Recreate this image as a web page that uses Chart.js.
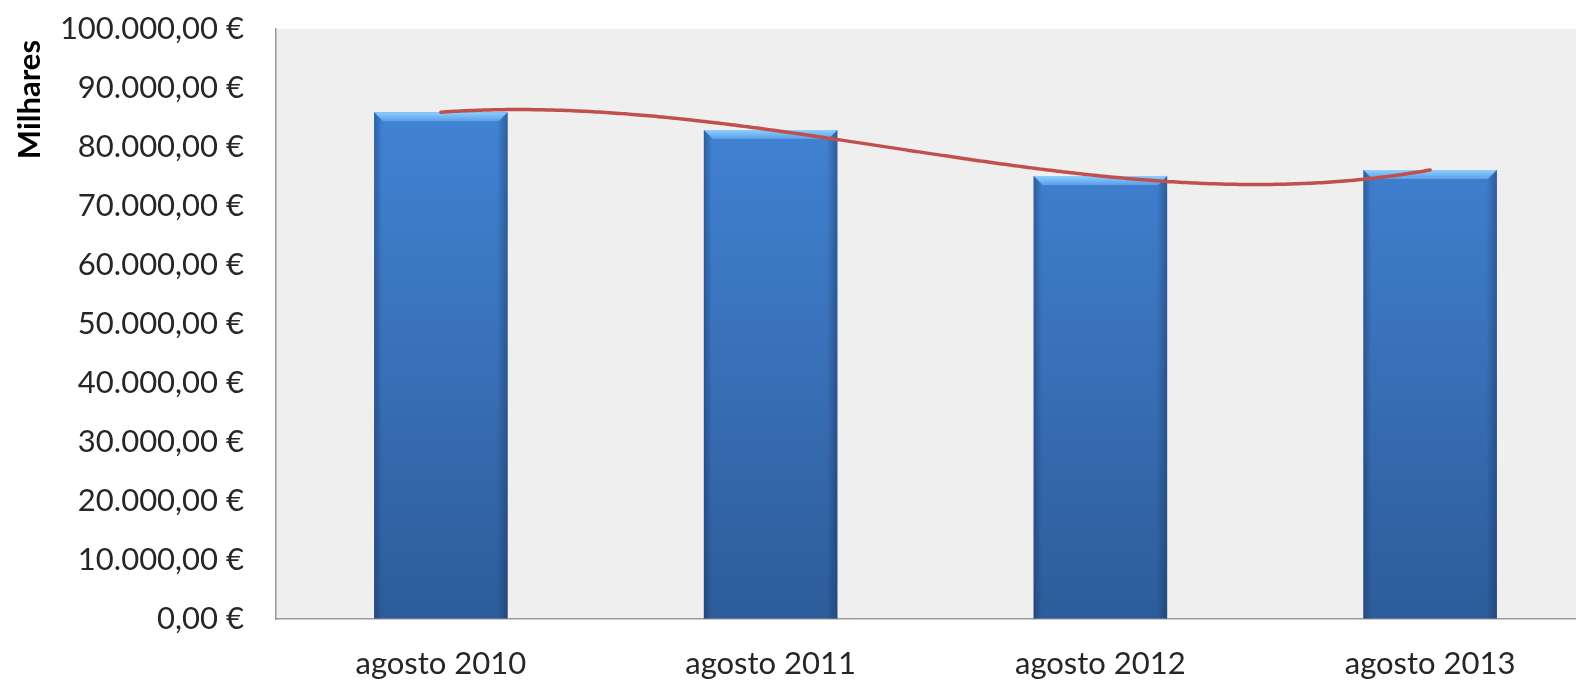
<!DOCTYPE html>
<html><head><meta charset="utf-8">
<script src="https://cdn.jsdelivr.net/npm/chart.js@4"></script>
<style>
html,body{margin:0;padding:0;overflow:hidden;background:#fff}
#wrap{width:1620px;height:681px;position:relative}
</style>
</head><body><div id="wrap"><canvas id="c"></canvas></div>
<script>
const categories = ['agosto 2010', 'agosto 2011', 'agosto 2012', 'agosto 2013'];
const values = [85900, 82900, 75100, 76100];
const yTickValues = [0, 10000, 20000, 30000, 40000, 50000, 60000, 70000, 80000, 90000, 100000];
const yTickLabels = ['0,00 €', '10.000,00 €', '20.000,00 €', '30.000,00 €', '40.000,00 €', '50.000,00 €',
  '60.000,00 €', '70.000,00 €', '80.000,00 €', '90.000,00 €', '100.000,00 €'];
const yAxisTitle = 'Milhares';

const FONT = 'Lato, "Open Sans", sans-serif';

const plotBg = {
  id: 'plotBg',
  beforeDraw(chart) {
    const {ctx, chartArea: a} = chart;
    ctx.save();
    ctx.fillStyle = '#efefef';
    ctx.fillRect(a.left, a.top, a.right - a.left, a.bottom - a.top);
    ctx.restore();
  }
};

const barStyle = {
  id: 'barStyle',
  afterDatasetDraw(chart, args) {
    if (args.index !== 0) return;
    const {ctx} = chart;
    const meta = chart.getDatasetMeta(0);
    meta.data.forEach(el => {
      const p = el.getProps(['x', 'y', 'base', 'width'], true);
      const l = p.x - p.width / 2, r = p.x + p.width / 2, t = p.y, b = p.base;
      ctx.save();
      const hg = ctx.createLinearGradient(l, 0, r, 0);
      hg.addColorStop(0, 'rgba(20,40,80,0.40)');
      hg.addColorStop(0.06, 'rgba(20,40,80,0.0)');
      hg.addColorStop(0.92, 'rgba(20,40,80,0.0)');
      hg.addColorStop(1, 'rgba(20,40,80,0.40)');
      ctx.fillStyle = hg;
      ctx.fillRect(l, t, r - l, b - t);
      const d = 9;
      const vg = ctx.createLinearGradient(0, t, 0, t + d);
      vg.addColorStop(0, '#8fd0ff');
      vg.addColorStop(1, '#5a9fe8');
      ctx.fillStyle = vg;
      ctx.beginPath();
      ctx.moveTo(l, t);
      ctx.lineTo(r, t);
      ctx.lineTo(r - d, t + d);
      ctx.lineTo(l + d, t + d);
      ctx.closePath();
      ctx.fill();
      ctx.restore();
    });
  }
};

// Excel-style polynomial (order 3) trendline computed from the bar data
const trendLine = {
  id: 'trendLine',
  afterDatasetsDraw(chart) {
    const {ctx, scales: {x, y}} = chart;
    const n = values.length;
    const poly = t => {
      let s = 0;
      for (let i = 0; i < n; i++) {
        let L = 1;
        for (let j = 0; j < n; j++) if (j !== i) L *= (t - j) / (i - j);
        s += values[i] * L;
      }
      return s;
    };
    ctx.save();
    ctx.strokeStyle = '#c0504d';
    ctx.lineWidth = 3.5;
    ctx.lineJoin = 'round';
    ctx.lineCap = 'round';
    ctx.beginPath();
    const steps = 300;
    for (let k = 0; k <= steps; k++) {
      const t = (n - 1) * k / steps;
      const px = x.getPixelForValue(t), py = y.getPixelForValue(poly(t));
      if (k === 0) ctx.moveTo(px, py); else ctx.lineTo(px, py);
    }
    ctx.stroke();
    ctx.restore();
  }
};

const axisTitle = {
  id: 'axisTitle',
  afterDraw(chart) {
    const {ctx, chartArea: a} = chart;
    ctx.save();
    ctx.translate(30, a.top + 11);
    ctx.rotate(-Math.PI / 2);
    ctx.font = 'bold 31px ' + FONT;
    ctx.fillStyle = '#000';
    ctx.textAlign = 'right';
    ctx.textBaseline = 'middle';
    ctx.fillText(yAxisTitle, 0, 0);
    ctx.restore();
  }
};

new Chart(document.getElementById('c'), {
  type: 'bar',
  data: {
    labels: categories,
    datasets: [{
      data: values,
      backgroundColor: (c) => {
        const a = c.chart.chartArea;
        if (!a) return '#3a75c4';
        const g = c.chart.ctx.createLinearGradient(0, a.top, 0, a.bottom);
        g.addColorStop(0, '#4389dd');
        g.addColorStop(0.5, '#3a73bc');
        g.addColorStop(1, '#2d5c9a');
        return g;
      },
      borderWidth: 0,
      categoryPercentage: 1,
      barPercentage: 0.405
    }]
  },
  options: {
    responsive: true,
    maintainAspectRatio: false,
    animation: false,
    events: [],
    layout: {padding: {top: 29, right: 25, left: 0, bottom: 0}},
    plugins: {legend: {display: false}, tooltip: {enabled: false}},
    scales: {
      x: {
        offset: true,
        grid: {display: true, drawOnChartArea: false, drawTicks: true, tickLength: 26, color: 'rgba(0,0,0,0)'},
        border: {display: true, color: '#9a9a9a', width: 1.5},
        ticks: {font: {family: FONT, size: 31}, color: '#262626', padding: 0, maxRotation: 0},
        afterFit(s) { s.height = 62; }
      },
      y: {
        min: 0, max: 100000,
        afterBuildTicks(s) { s.ticks = yTickValues.map(v => ({value: v})); },
        grid: {display: true, drawOnChartArea: false, drawTicks: true, tickLength: 32, color: 'rgba(0,0,0,0)'},
        border: {display: true, color: '#9a9a9a', width: 1.5},
        ticks: {
          font: {family: FONT, size: 31}, color: '#262626', padding: 0,
          callback: (v) => yTickLabels[yTickValues.indexOf(v)]
        },
        afterFit(s) { s.width = 276; }
      }
    }
  },
  plugins: [plotBg, barStyle, trendLine, axisTitle]
});
</script>
</body></html>
